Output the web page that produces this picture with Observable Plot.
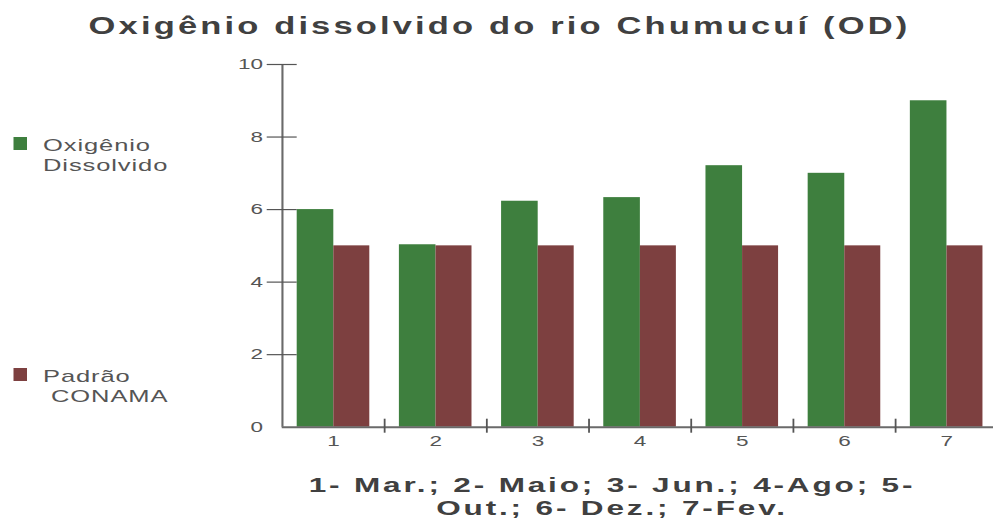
<!DOCTYPE html>
<html>
<head>
<meta charset="utf-8">
<script src="https://cdn.jsdelivr.net/npm/d3@7"></script>
<script src="https://cdn.jsdelivr.net/npm/@observablehq/plot@0.6"></script>
<style>
  html, body { margin: 0; padding: 0; background: #fff; overflow: hidden; width: 993px; height: 519px; }
  #page { position: relative; width: 670px; height: 519px; transform: scaleX(1.5); transform-origin: 0 0; font-family: "Liberation Sans", Arial, sans-serif; }
  #title { position: absolute; left: 0; top: 11.5px; width: 666px; text-align: center; font-size: 23px; line-height: 28px; font-weight: bold; color: #404040; letter-spacing: 2.1px; white-space: nowrap; }
  #chart { position: absolute; left: 0; top: 48px; width: 665px; }
  #chart svg { max-width: none !important; }
  .legend { position: absolute; left: 8.7px; font-size: 17px; line-height: 20px; color: #555; white-space: pre; }
  .legend .sw { position: absolute; left: 0; width: 9.5px; height: 13px; }
  .legend .lbl { position: absolute; left: 20px; top: 0; letter-spacing: 0.6px; }
  #caption { position: absolute; left: 158px; width: 500px; top: 473px; text-align: center; font-size: 21px; line-height: 23px; font-weight: bold; color: #404040; letter-spacing: 1.9px; white-space: nowrap; }
</style>
</head>
<body>
<div id="page">
  <div id="title"></div>
  <div id="chart"></div>
  <div id="legend"></div>
  <div id="caption"></div>
</div>
<script>
// ---- data ----
const titleText = "Oxigênio dissolvido do rio Chumucuí (OD)";
const captionLines = ["1- Mar.; 2- Maio; 3- Jun.; 4-Ago; 5-", "Out.; 6- Dez.; 7-Fev."];
const groups = [1, 2, 3, 4, 5, 6, 7];
const seriesNames = ["Oxigênio\nDissolvido", "Padrão\n CONAMA"];
const odValues = [6.0, 5.03, 6.23, 6.33, 7.21, 7.0, 9.0];
const conamaValues = [5, 5, 5, 5, 5, 5, 5];
const yTicks = [0, 2, 4, 6, 8, 10];
const colors = ["#3e7f3e", "#7d4040"];

// ---- layout (unscaled units; page is stretched horizontally 1.5x) ----
const bandW = (665 - 0.3 - 187.8) / groups.length;
const odRows = groups.map((g, i) => ({group: g, value: odValues[i]}));
const conamaRows = groups.map((g, i) => ({group: g, value: conamaValues[i]}));
const separators = groups.slice(1).map(g => g - 0.5);

document.getElementById("title").textContent = titleText;
const cap = document.getElementById("caption");
captionLines.forEach((l, i) => { if (i) cap.appendChild(document.createElement("br")); cap.appendChild(document.createTextNode(l)); });

const legend = document.getElementById("legend");
const legendTops = [135.8, 366.8];
seriesNames.forEach((name, i) => {
  const item = document.createElement("div");
  item.className = "legend";
  item.style.top = legendTops[i] + "px";
  const sw = document.createElement("div");
  sw.className = "sw";
  sw.style.background = colors[i];
  sw.style.top = "1.5px";
  const lbl = document.createElement("div");
  lbl.className = "lbl";
  lbl.textContent = name;
  item.appendChild(sw);
  item.appendChild(lbl);
  legend.appendChild(item);
});

const plot = Plot.plot({
  width: 665,
  height: 420,
  marginLeft: 187.8,
  marginRight: 0.3,
  marginTop: 16,
  marginBottom: 41.3,
  style: {color: "#555", fontFamily: "Liberation Sans, Arial, sans-serif", fontSize: "15px", overflow: "visible", background: "transparent", maxWidth: "none"},
  x: {domain: [0.5, groups.length + 0.5], label: null},
  y: {domain: [0, 10], label: null},
  marks: [
    Plot.rectY(odRows, {x1: d => d.group - 0.5, x2: d => d.group + 0.5, y: "value", fill: colors[0], insetLeft: 10, insetRight: bandW - 34.4}),
    Plot.rectY(conamaRows, {x1: d => d.group - 0.5, x2: d => d.group + 0.5, y: "value", fill: colors[1], insetLeft: 34.4, insetRight: bandW - 58.4}),
    Plot.ruleX([0.5], {stroke: "#6a6a6a", strokeWidth: 1.4}),
    Plot.ruleY([0], {stroke: "#6a6a6a", strokeWidth: 2}),
    Plot.axisY({ticks: yTicks.filter(t => t > 0), tickSize: 20, dx: 10, tickPadding: 3, stroke: "#555", fill: "#555", strokeWidth: 1.2, fontSize: 15}),
    Plot.axisY({ticks: [0], tickSize: 0, tickPadding: 13, fill: "#555", fontSize: 15}),
    Plot.axisX({ticks: separators, tickSize: 14, dy: -8, tickFormat: () => "", stroke: "#555", strokeWidth: 1.2}),
    Plot.axisX({ticks: groups, tickSize: 0, tickPadding: 8, tickFormat: d3.format("d"), fill: "#555", fontSize: 15})
  ]
});
document.getElementById("chart").appendChild(plot);
</script>
</body>
</html>
